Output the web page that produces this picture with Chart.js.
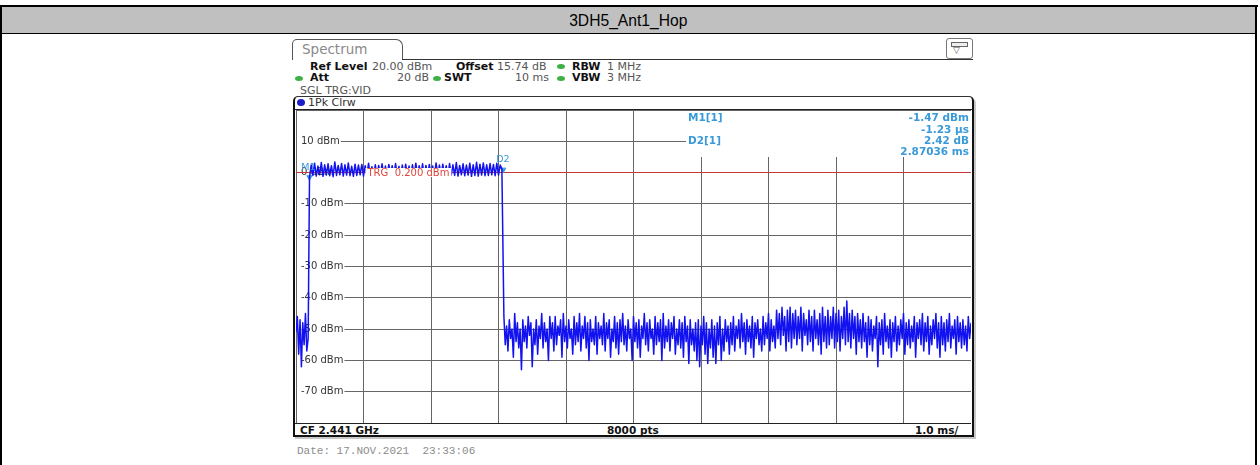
<!DOCTYPE html>
<html>
<head>
<meta charset="utf-8">
<script src="https://cdn.jsdelivr.net/npm/chart.js@4.4.1/dist/chart.umd.min.js"></script>
<style>
  html, body { margin: 0; padding: 0; background: #fff; }
  body { width: 1260px; height: 465px; position: relative; overflow: hidden; font-family: "DejaVu Sans", sans-serif; }
  .abs { position: absolute; white-space: pre; }
  .row { font-size: 11px; line-height: 12px; color: #555; }
  .b { font-weight: bold; color: #111; }
  .dot { position: absolute; width: 8px; height: 5px; border-radius: 50%; background: #3cb043; }
</style>
</head>
<body>
<!-- table frame -->
<div class="abs" style="left:0;top:5px;width:1258px;height:2px;background:#000"></div>
<div class="abs" style="left:0;top:5px;width:2px;height:460px;background:#000"></div>
<div class="abs" style="left:1255px;top:5px;width:2px;height:460px;background:#000"></div>
<div class="abs" style="left:2px;top:7px;width:1253px;height:26px;background:#c0c0c0"></div>
<div class="abs" style="left:2px;top:33px;width:1253px;height:1px;background:#000"></div>
<div class="abs" style="left:2px;top:7px;width:1253px;height:26px;line-height:27px;text-align:center;font-family:'Liberation Sans',Arial,sans-serif;font-size:17px;color:#000"><span style="display:inline-block;transform:scaleX(0.92)">3DH5_Ant1_Hop</span></div>

<!-- analyzer header -->
<div class="abs" style="left:292px;top:39px;width:109px;height:20px;border:1px solid #555;border-bottom:none;border-radius:5px 7px 0 0"></div>
<div class="abs" style="left:302px;top:41px;font-size:13.5px;line-height:16px;color:#8a8a8a">Spectrum</div>
<div class="abs" style="left:402px;top:59px;width:571px;height:1px;background:#333"></div>
<div class="abs" style="left:946px;top:38px;width:25px;height:19px;border:1px solid #777;border-radius:3px;background:#fff"></div>
<div class="abs" style="left:951px;top:42px;width:15px;height:3px;border:1px solid #666;background:#eee"></div>
<div class="abs" style="left:953px;top:45px;font-size:9px;line-height:10px;color:#555">▽</div>

<div class="abs row b" style="left:310px;top:61px">Ref Level</div>
<div class="abs row" style="left:372px;top:61px">20.00 dBm</div>
<div class="abs row b" style="left:456px;top:61px">Offset</div>
<div class="abs row" style="left:497px;top:61px">15.74 dB</div>
<div class="dot" style="left:557px;top:64px"></div>
<div class="abs row b" style="left:572px;top:61px">RBW</div>
<div class="abs row" style="left:607px;top:61px">1 MHz</div>

<div class="dot" style="left:295px;top:76px"></div>
<div class="abs row b" style="left:310px;top:72px">Att</div>
<div class="abs row" style="left:397px;top:72px">20 dB</div>
<div class="dot" style="left:433px;top:76px"></div>
<div class="abs row b" style="left:444px;top:72px">SWT</div>
<div class="abs row" style="left:515px;top:72px">10 ms</div>
<div class="dot" style="left:557px;top:76px"></div>
<div class="abs row b" style="left:572px;top:72px">VBW</div>
<div class="abs row" style="left:607px;top:72px">3 MHz</div>

<div class="abs row" style="left:300px;top:85px">SGL TRG:VID</div>

<!-- plot box -->
<div class="abs" style="left:293px;top:96px;width:677px;height:338px;border:2px solid #111;border-top:1px solid #333;border-radius:5px 5px 0 0;box-shadow:2px 2px 0 #c8c8c8"></div>
<div class="abs" style="left:297px;top:99px;width:8px;height:7px;border-radius:50%;background:#1c1cc8"></div>
<div class="abs row" style="left:308px;top:97px;color:#333">1Pk Clrw</div>
<div class="abs" style="left:295px;top:109px;width:677px;height:1px;background:#222"></div>

<canvas id="c" width="675" height="313" style="position:absolute;left:296px;top:110px"></canvas>

<!-- bottom bar -->
<div class="abs" style="left:295px;top:423px;width:676px;height:1px;background:#222"></div>
<div class="abs row b" style="left:300px;top:424px;font-size:10.5px">CF 2.441 GHz</div>
<div class="abs row b" style="left:607px;top:424px;font-size:10.5px">8000 pts</div>
<div class="abs row b" style="left:915px;top:424px;font-size:10.5px">1.0 ms/</div>

<div class="abs" style="left:297px;top:445px;font-family:'Liberation Mono',monospace;font-size:11px;line-height:13px;color:#8c8c8c">Date: 17.NOV.2021  23:33:06</div>

<script>
// sweep: 10 ms, -80..20 dBm
const xMinMs = 0;
const xMaxMs = 10;
const yMinDbm = -80;
const yMaxDbm = 20;
const yTickLabels = [10, 0, -10, -20, -30, -40, -50, -60, -70];
const trgLevel = 0.2;

// noise before the burst (0 .. 0.18 ms)
const preStart = 0, preStep = 0.02;
const preNoise = [-51, -46, -58, -47, -62, -48, -55, -45, -57, -53];

// burst (0.2 .. 3.05 ms)
const burstStart = 0.2, burstStep = 0.025;
const burst = [
  -1.5, 2.4, -0.9, 3.0, -1.1, 2.1, -0.7, 3.2, -1.2, 2.5,
  -0.8, 2.8, -1.0, 2.2, -1.3, 3.4, -0.9, 2.3, -0.7, 2.9,
  -1.1, 2.5, -0.8, 3.1, -1.0, 2.0, -1.2, 2.7, -0.9, 2.4,
  -0.7, 2.6, -1.1, 2.2, -0.8, 3.0, -1.0, 1.9, -0.9, 2.5,
  -1.2, 2.3, -0.7, 2.8, -0.9, 2.1, -1.1, 2.6, -0.8, 2.2,
  -1.0, 2.9, -0.9, 2.0, -1.2, 2.4, -0.8, 2.7, -1.0, 2.1,
  -0.9, 2.5, -1.1, 3.0, -0.7, 2.2, -1.0, 2.8, -1.2, 2.3,
  -0.8, 2.6, -0.9, 2.1, -1.1, 3.1, -0.7, 2.4, -0.9, 2.7,
  -1.0, 2.2, -1.2, 2.9, -0.8, 2.5, -0.9, 3.2, -1.1, 2.3,
  -0.7, 2.8, -1.0, 2.4, -0.8, 3.0, -1.2, 2.5, -0.9, 3.3,
  -1.1, 2.7, -0.8, 3.1, -1.0, 2.5, -0.9, 2.9, -0.7, 2.6,
  -1.0, 3.0, -0.8, 2.4, 1.2
];

// noise after the burst (3.08 .. 10 ms)
const postStart = 3.08, postStep = 0.02;
const postNoise = [
  -46, -55, -49, -57, -47, -53, -50, -59, -45, -54, -48, -56,
  -50, -63, -47, -54, -49, -56, -46, -52, -48, -62, -50, -55,
  -47, -58, -49, -53, -45, -56, -48, -54, -50, -60, -46, -53,
  -48, -57, -46, -55, -49, -52, -47, -59, -45, -54, -49, -56,
  -47, -53, -50, -58, -46, -55, -48, -54, -45, -57, -49, -53,
  -46, -56, -48, -60, -47, -54, -50, -55, -46, -58, -48, -53,
  -49, -55, -45, -57, -48, -53, -47, -59, -50, -54, -46, -56,
  -48, -58, -47, -54, -45, -55, -49, -57, -47, -53, -50, -60,
  -46, -54, -48, -56, -47, -59, -49, -53, -45, -55, -48, -57,
  -47, -53, -50, -58, -46, -55, -48, -54, -47, -60, -45, -56,
  -49, -54, -47, -57, -48, -53, -46, -58, -50, -55, -47, -56,
  -48, -59, -46, -54, -49, -61, -47, -55, -50, -57, -48, -60,
  -47, -62, -49, -55, -46, -58, -48, -61, -50, -56, -47, -59,
  -49, -61, -48, -55, -46, -60, -50, -57, -47, -54, -49, -58,
  -48, -55, -46, -57, -49, -53, -47, -56, -45, -54, -48, -58,
  -47, -54, -49, -56, -46, -59, -48, -53, -47, -55, -50, -57,
  -46, -55, -48, -53, -45, -57, -47, -54, -49, -56, -44, -53,
  -45, -55, -43, -52, -46, -57, -44, -54, -43, -56, -45, -53,
  -44, -55, -46, -53, -43, -57, -45, -52, -47, -55, -44, -54,
  -46, -57, -44, -53, -47, -55, -45, -58, -43, -54, -46, -56,
  -44, -55, -46, -53, -43, -56, -45, -54, -44, -57, -46, -53,
  -43, -55, -41, -54, -45, -56, -44, -53, -46, -58, -45, -54,
  -47, -56, -45, -54, -48, -59, -46, -55, -47, -57, -49, -53,
  -46, -62, -48, -55, -47, -58, -45, -54, -49, -56, -47, -59,
  -48, -54, -46, -57, -49, -55, -47, -53, -45, -58, -48, -55,
  -47, -56, -49, -54, -46, -59, -48, -53, -47, -55, -45, -57,
  -48, -54, -46, -58, -49, -55, -47, -53, -45, -56, -48, -59,
  -46, -55, -48, -57, -47, -54, -45, -56, -49, -53, -47, -58,
  -46, -54, -48, -56, -47, -55, -49, -57, -46, -53, -48, -55
];

// markers
const markerNames = ['M1', 'D2'];
const markerTimes = [0.2, 3.07];
const markerLevels = [-1.47, 0.95];

const segment = (start, step, vals) => vals.map((v, i) => ({ x: start + i * step, y: v }));

const trace = [
  ...segment(preStart, preStep, preNoise),
  ...segment(burstStart, burstStep, burst),
  ...segment(postStart, postStep, postNoise),
];
const markers = markerTimes.map((t, i) => ({ x: t, y: markerLevels[i] }));

const MARK_BLUE = '#3a9ad8';

const rsOverlay = {
  id: 'rsOverlay',
  beforeDatasetsDraw(chart) {
    const { ctx, chartArea: a, scales: { x, y } } = chart;
    ctx.save();
    // level labels sit on the grid lines
    ctx.font = '10px "DejaVu Sans"';
    ctx.textBaseline = 'middle';
    yTickLabels.forEach((v) => {
      const py = y.getPixelForValue(v);
      const txt = v + ' dBm';
      const w = ctx.measureText(txt).width;
      ctx.fillStyle = '#fff';
      ctx.fillRect(a.left + 1, py - 6, w + 5, 12);
      ctx.fillStyle = '#333';
      ctx.fillText(txt, a.left + 5, py);
    });

    // marker table in the top right corner
    const boxL = x.getPixelForValue(6) - 15;
    ctx.fillStyle = '#fff';
    ctx.fillRect(boxL, a.top + 1, a.right - boxL, 46);
    ctx.fillStyle = MARK_BLUE;
    ctx.font = 'bold 10.5px "DejaVu Sans"';
    ctx.textAlign = 'left';
    ctx.fillText('M1[1]', boxL + 2, a.top + 8);
    ctx.fillText('D2[1]', boxL + 2, a.top + 31.5);
    ctx.textAlign = 'right';
    ctx.fillText('-1.47 dBm', a.right - 2, a.top + 8);
    ctx.fillText('-1.23 µs', a.right - 2, a.top + 20);
    ctx.fillText('2.42 dB', a.right - 2, a.top + 31.5);
    ctx.fillText('2.87036 ms', a.right - 2, a.top + 42.5);

    // trigger level line
    const ty = Math.round(y.getPixelForValue(trgLevel)) + 0.5;
    ctx.strokeStyle = '#c43a3a';
    ctx.lineWidth = 1;
    ctx.beginPath();
    ctx.moveTo(a.left, ty);
    ctx.lineTo(a.right, ty);
    ctx.stroke();
    ctx.restore();
  },
  afterDatasetsDraw(chart) {
    const { ctx, scales: { x, y } } = chart;
    ctx.save();
    const ty = y.getPixelForValue(trgLevel);
    const tx = x.getPixelForValue(1) + 2;
    ctx.font = '10px "DejaVu Sans"';
    ctx.textBaseline = 'middle';
    const txt = 'TRG  0.200 dBm';
    const w = ctx.measureText(txt).width;
    ctx.fillStyle = '#fff';
    ctx.fillRect(tx, ty - 4, w + 4, 9);
    ctx.fillStyle = '#e0453a';
    ctx.fillText(txt, tx + 2, ty + 1);

    ctx.font = '9.5px "DejaVu Sans"';
    ctx.fillStyle = MARK_BLUE;
    markers.forEach((m, i) => {
      const px = x.getPixelForValue(m.x);
      const py = y.getPixelForValue(m.y);
      ctx.textAlign = i === 0 ? 'right' : 'left';
      ctx.fillText(markerNames[i], i === 0 ? px + 6 : px - 7, py - 10);
    });
    ctx.restore();
  },
};

new Chart(document.getElementById('c'), {
  type: 'line',
  data: {
    datasets: [
      {
        data: trace,
        borderColor: '#1212f0',
        borderWidth: 1.5,
        borderJoinStyle: 'round',
        pointRadius: 0,
        tension: 0,
      },
      {
        data: markers,
        showLine: false,
        pointStyle: 'triangle',
        rotation: 180,
        pointRadius: 3,
        backgroundColor: MARK_BLUE,
        borderColor: MARK_BLUE,
      },
    ],
  },
  options: {
    responsive: false,
    animation: false,
    devicePixelRatio: 1,
    layout: { padding: 0, autoPadding: false },
    plugins: { legend: { display: false }, tooltip: { enabled: false } },
    scales: {
      x: {
        type: 'linear',
        min: xMinMs,
        max: xMaxMs,
        ticks: { display: false, stepSize: 1 },
        grid: { color: '#666', drawTicks: false },
        border: { display: false },
      },
      y: {
        min: yMinDbm,
        max: yMaxDbm,
        ticks: { display: false, stepSize: 10 },
        grid: { color: '#666', drawTicks: false },
        border: { display: false },
      },
    },
  },
  plugins: [rsOverlay],
});
</script>
</body>
</html>
